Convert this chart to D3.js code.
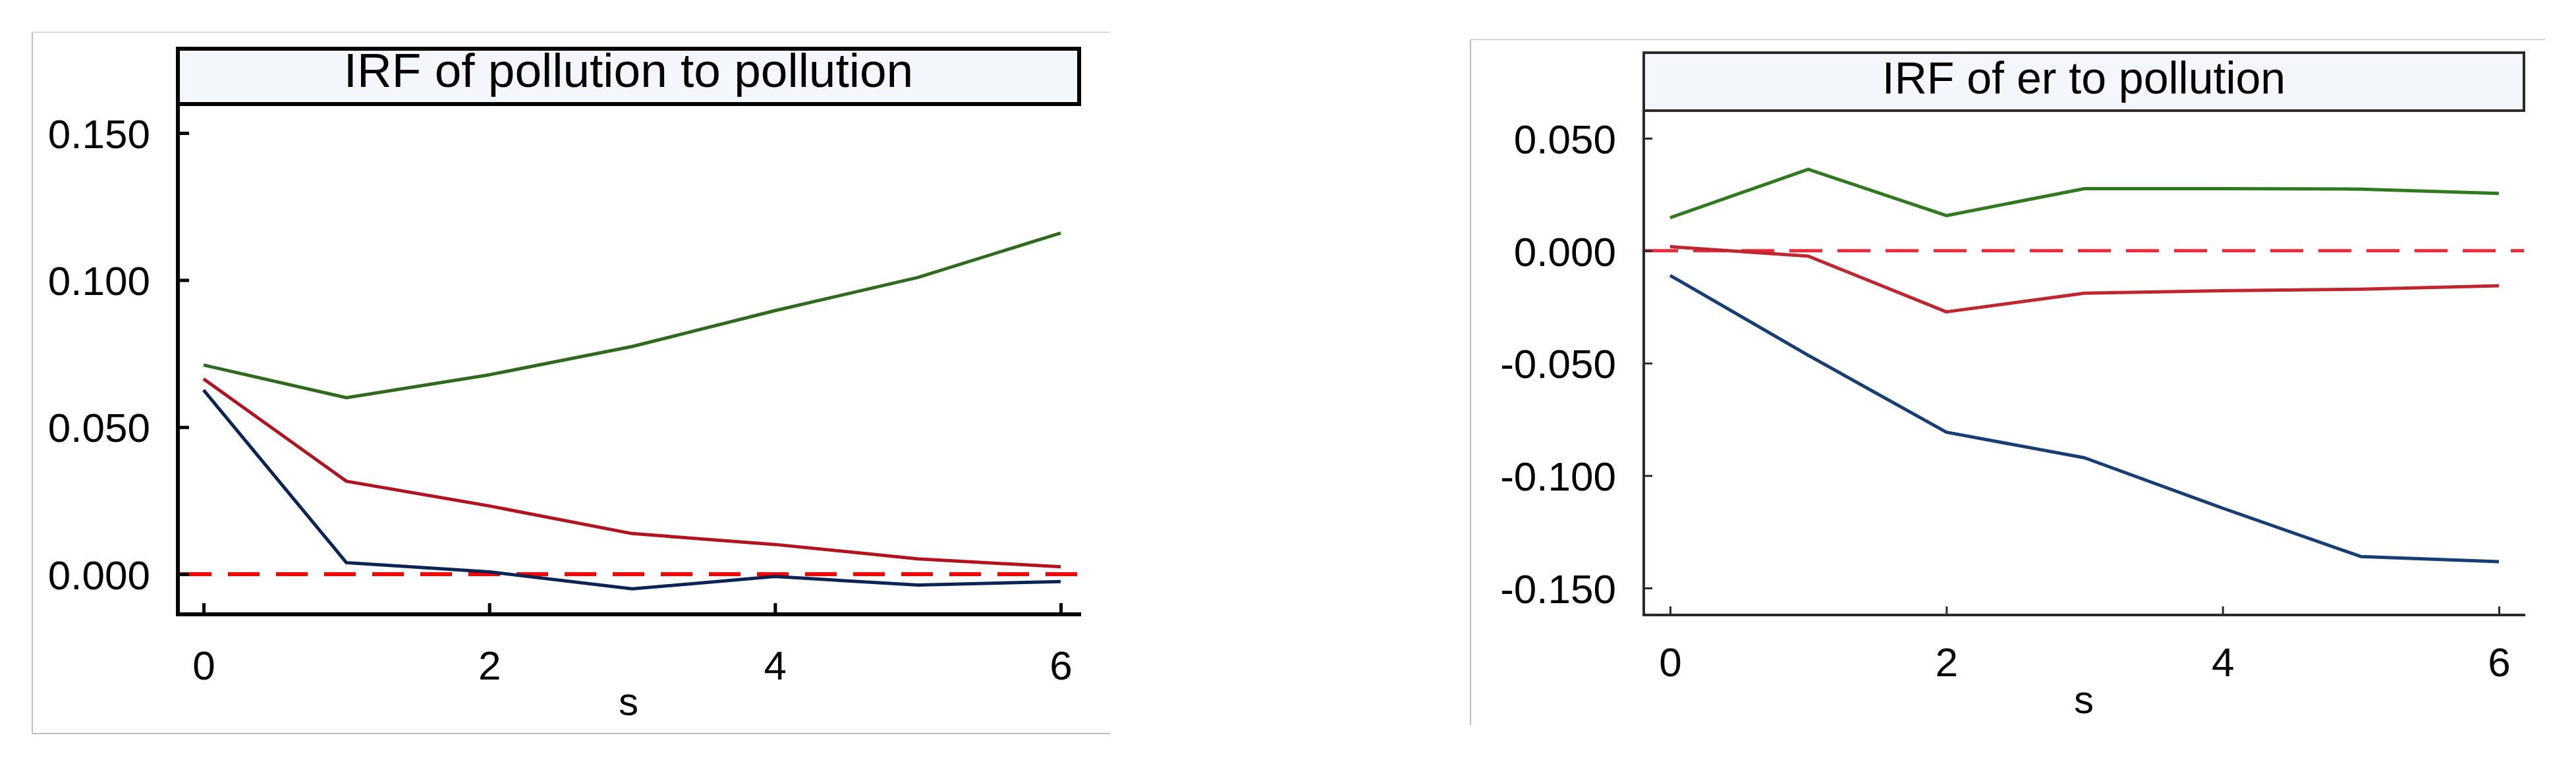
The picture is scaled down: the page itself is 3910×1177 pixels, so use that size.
<!DOCTYPE html>
<html lang="en">
<head>
<meta charset="utf-8" />
<title>IRF charts</title>
<style>
  body { margin: 0; background: #fff; }
  svg text { font-family: "Liberation Sans", Arial, sans-serif; fill: #000; }
  .frame { fill: none; shape-rendering: crispEdges; }
</style>
</head>
<body>
<div id="chart"></div>
<script src="https://d3js.org/d3.v7.min.js"></script>
<script>
// horizon steps
var steps = [0, 1, 2, 3, 4, 5, 6];
var xTicks = [0, 2, 4, 6];

// IRF of pollution to pollution
var pollIrf   = [0.0664, 0.0316, 0.0232, 0.0138, 0.0101, 0.0052, 0.0025];
var pollLower = [0.0626, 0.0039, 0.0008, -0.0050, -0.0008, -0.0037, -0.0025];
var pollUpper = [0.0711, 0.0600, 0.0678, 0.0774, 0.0896, 0.1009, 0.1160];
var pollTicks = [0, 0.05, 0.10, 0.15];

// IRF of er to pollution
var erIrf   = [0.0018, -0.0024, -0.0272, -0.0189, -0.0178, -0.0171, -0.0156];
var erLower = [-0.0110, -0.0465, -0.0807, -0.0921, -0.1145, -0.1360, -0.1383];
var erUpper = [0.0147, 0.0362, 0.0156, 0.0276, 0.0276, 0.0274, 0.0255];
var erTicks = [-0.15, -0.10, -0.05, 0, 0.05];

var width = 3910, height = 1177;

var svg = d3.select("#chart").append("svg")
    .attr("width", width)
    .attr("height", height)
    .style("display", "block")
    .style("background", "#fff");

// plain hyphen minus like the original
var yFmt = function(d) { return d3.format(".3f")(d).replace("\u2212", "-"); };

var panels = [
  {
    title: "IRF of pollution to pollution", titleSize: 73,
    irf: pollIrf, lower: pollLower, upper: pollUpper, ticks: pollTicks,
    xDom: [0, 6], xRange: [309, 1610], yDom: [0, 0.15], yRange: [872, 202],
    left: 270, right: 1638, titleTop: 74, top: 158, bottom: 933,
    outer: {x0: 49, y0: 49, x1: 1685, y1: 1114, sides: ["left", "top", "bottom"]},
    frameColor: "#000", frameW: 6, tickW: 5, tickLen: 17,
    colors: {upper: "#2e6b1c", irf: "#b3131f", lower: "#0b2456", zero: "#ff0000"},
    lineW: 5, zeroW: 6, dash: "48,25",
    xPad: 55, sBase: 1086, titleBase: 132
  },
  {
    title: "IRF of er to pollution", titleSize: 68,
    irf: erIrf, lower: erLower, upper: erUpper, ticks: erTicks,
    xDom: [0, 6], xRange: [2535, 3793], yDom: [-0.15, 0.05], yRange: [893, 210],
    left: 2495, right: 3831, titleTop: 80, top: 168, bottom: 934,
    outer: {x0: 2232, y0: 60, x1: 3863, y1: 1101, sides: ["left", "top"]},
    frameColor: "#2b2b2b", frameW: 4, tickW: 3, tickLen: 13,
    colors: {upper: "#2f7a1f", irf: "#c0262f", lower: "#163e74", zero: "#ee2a3c"},
    lineW: 5, zeroW: 5, dash: "50,23",
    xPad: 49, sBase: 1083, titleBase: 142
  }
];

panels.forEach(function(p) {
  var x = d3.scaleLinear().domain(p.xDom).range(p.xRange);
  var y = d3.scaleLinear().domain(p.yDom).range(p.yRange);
  var g = svg.append("g");

  // light outer border of the pasted figure
  var o = p.outer;
  var sides = {
    left: [o.x0, o.y0, o.x0, o.y1],
    top: [o.x0, o.y0, o.x1, o.y0],
    bottom: [o.x0, o.y1, o.x1, o.y1]
  };
  p.outer.sides.forEach(function(s) {
    var c = sides[s];
    g.append("line").attr("class", "frame")
      .attr("x1", c[0]).attr("y1", c[1]).attr("x2", c[2]).attr("y2", c[3])
      .attr("stroke", s == "top" ? "#d6d6d6" : "#bdbdbd")
      .attr("stroke-width", 2);
  });

  // title box
  g.append("rect").attr("class", "frame")
    .attr("x", p.left).attr("y", p.titleTop)
    .attr("width", p.right - p.left).attr("height", p.top - p.titleTop)
    .style("fill", "#f3f6fb")
    .attr("stroke", p.frameColor).attr("stroke-width", p.frameW);

  g.append("text")
    .attr("x", (p.left + p.right) / 2).attr("y", p.titleBase)
    .attr("text-anchor", "middle")
    .style("font-size", p.titleSize + "px")
    .text(p.title);

  // zero line
  g.append("line")
    .attr("x1", p.left + p.frameW / 2).attr("x2", p.right)
    .attr("y1", y(0)).attr("y2", y(0))
    .attr("stroke", p.colors.zero).attr("stroke-width", p.zeroW)
    .attr("stroke-dasharray", p.dash);

  // series
  var line = d3.line()
    .x(function(d, i) { return x(steps[i]); })
    .y(function(d) { return y(d); });

  [["upper", p.upper], ["irf", p.irf], ["lower", p.lower]].forEach(function(s) {
    g.append("path")
      .datum(s[1])
      .attr("d", line)
      .attr("fill", "none")
      .attr("stroke", p.colors[s[0]])
      .attr("stroke-width", p.lineW)
      .attr("stroke-linejoin", "round");
  });

  // y axis
  var yAxis = g.append("g")
    .attr("transform", "translate(" + p.left + ",0)")
    .call(d3.axisLeft(y).tickValues(p.ticks).tickSize(-p.tickLen).tickPadding(42)
      .tickFormat(yFmt));
  yAxis.select(".domain").remove();
  yAxis.selectAll("line").attr("stroke", p.frameColor).attr("stroke-width", p.tickW);
  yAxis.selectAll("text")
    .attr("font-family", null).attr("font-size", null)
    .style("font-size", "62px").attr("dy", "0.36em");

  // x axis
  var xAxis = g.append("g")
    .attr("transform", "translate(0," + p.bottom + ")")
    .call(d3.axisBottom(x).tickValues(xTicks).tickSize(-p.tickLen).tickPadding(p.xPad)
      .tickFormat(d3.format("d")));
  xAxis.select(".domain").remove();
  xAxis.selectAll("line").attr("stroke", p.frameColor).attr("stroke-width", p.tickW);
  xAxis.selectAll("text")
    .attr("font-family", null).attr("font-size", null)
    .style("font-size", "62px");

  // plot frame: left and bottom
  g.append("path").attr("class", "frame")
    .attr("d", "M" + p.left + "," + p.titleTop + "V" + p.bottom + "H" + (p.right + p.frameW / 2))
    .attr("stroke", p.frameColor).attr("stroke-width", p.frameW);

  g.append("text")
    .attr("x", (p.left + p.right) / 2).attr("y", p.sBase)
    .attr("text-anchor", "middle")
    .style("font-size", "60px")
    .text("s");
});
</script>
</body>
</html>
